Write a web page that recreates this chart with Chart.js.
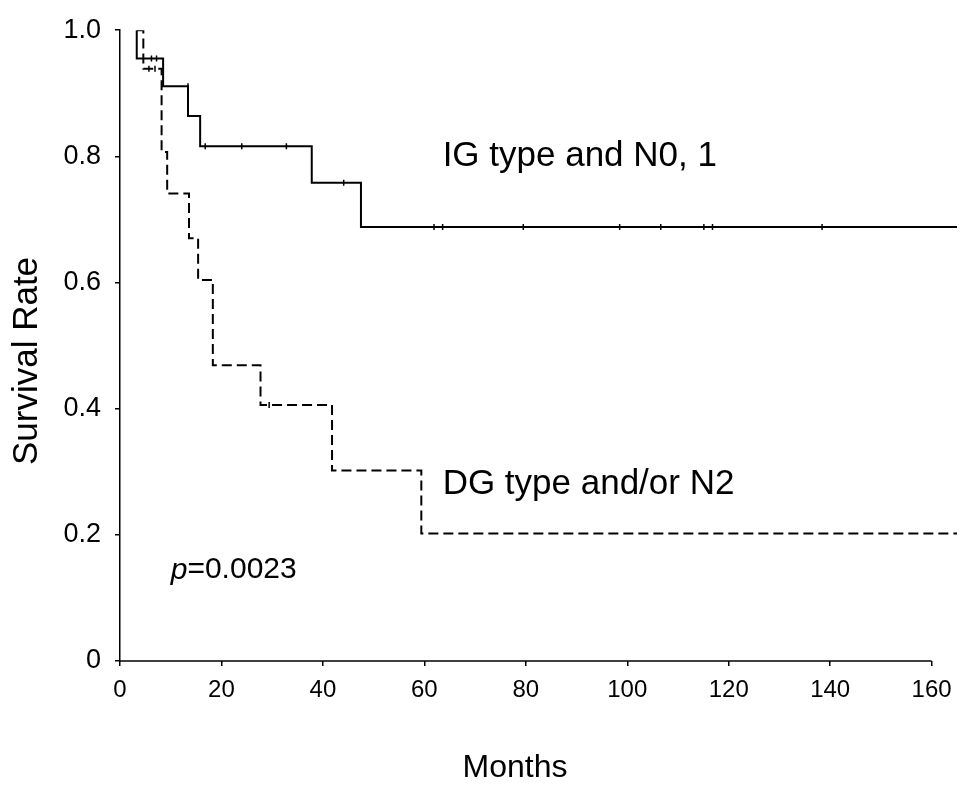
<!DOCTYPE html>
<html lang="en">

<head>
    <meta charset="UTF-8">
    <title>Survival Rate</title>
    <style>
        body {
            margin: 0;
            background: white;
        }

        .chart-box {
            width: 969px;
            height: 798px;
        }
    </style>
</head>

<body>
    <div class="chart-box">
        <canvas id="kmChart"></canvas>
    </div>

    <script src="https://cdn.jsdelivr.net/npm/chart.js"></script>
    <script>
        // curve IG type and N0, 1 (solid)
        const igTimes = [3.3, 3.3, 8.5, 13.4, 15.8, 37.8, 47.5, 165];
        const igSurv = [1, 0.955, 0.911, 0.864, 0.816, 0.758, 0.688, 0.688];
        const igCensorTimes = [6.2, 7.2, 13.4, 16.8, 24, 32.8, 44.1, 61.9, 63.6, 79.5, 98.5, 106.6, 115.1, 116.8, 138.4];
        const igCensorSurv = [0.955, 0.955, 0.911, 0.816, 0.816, 0.816, 0.758, 0.688, 0.688, 0.688, 0.688, 0.688, 0.688, 0.688, 0.688];

        // curve DG type and/or N2 (dashed)
        const dgTimes = [3.3, 4.6, 8.2, 9.3, 13.6, 15.4, 18.3, 27.7, 41.8, 59.4, 165];
        const dgSurv = [1, 0.939, 0.807, 0.741, 0.670, 0.604, 0.469, 0.406, 0.302, 0.202, 0.202];
        const dgCensorTimes = [5.7, 6.9, 29.4];
        const dgCensorSurv = [0.939, 0.939, 0.406];

        const xTicks = [0, 20, 40, 60, 80, 100, 120, 140, 160];
        const yTickLabels = ['0', '0.2', '0.4', '0.6', '0.8', '1.0'];

        const notes = [
            { text: 'IG type and N0, 1', x: 63.6, y: 0.8, size: 35 },
            { text: 'DG type and/or N2', x: 63.6, y: 0.28, size: 35 },
        ];

        const toPoints = (xs, ys) => xs.map((x, i) => ({ x: x, y: ys[i] }));
        const FONT = "'Liberation Sans', Arial, sans-serif";

        // axis line stops at 160, axis titles and text labels
        const extras = {
            id: 'extras',
            afterDraw(chart) {
                const c = chart.ctx;
                const xs = chart.scales.x;
                const ys = chart.scales.y;
                c.save();
                c.strokeStyle = 'black';
                c.lineWidth = 1.5;
                c.beginPath();
                c.moveTo(xs.getPixelForValue(0), ys.getPixelForValue(0));
                c.lineTo(xs.getPixelForValue(160), ys.getPixelForValue(0));
                c.stroke();

                c.fillStyle = 'black';
                c.textBaseline = 'middle';
                notes.forEach(n => {
                    c.font = n.size + 'px ' + FONT;
                    c.fillText(n.text, xs.getPixelForValue(n.x), ys.getPixelForValue(n.y));
                });
                // p value, italic p
                const px = xs.getPixelForValue(10);
                const py = ys.getPixelForValue(0.144);
                c.font = 'italic 30px ' + FONT;
                c.fillText('p', px, py);
                const w = c.measureText('p').width;
                c.font = '30px ' + FONT;
                c.fillText('=0.0023', px + w, py);

                // axis titles
                c.textAlign = 'center';
                c.font = '32px ' + FONT;
                c.fillText('Months', 515, 768);
                c.translate(27, 361);
                c.rotate(-Math.PI / 2);
                c.font = '35px ' + FONT;
                c.fillText('Survival Rate', 0, 0);
                c.restore();
            }
        };

        const ctx = document.getElementById('kmChart').getContext('2d');
        new Chart(ctx, {
            type: 'line',
            data: {
                datasets: [{
                    label: 'IG type and N0, 1',
                    data: toPoints(igTimes, igSurv),
                    borderColor: 'black',
                    borderWidth: 2,
                    stepped: 'before',
                    pointRadius: 0
                }, {
                    label: 'DG type and/or N2',
                    data: toPoints(dgTimes, dgSurv),
                    borderColor: 'black',
                    borderWidth: 2,
                    borderDash: [10, 5],
                    stepped: 'before',
                    pointRadius: 0
                }, {
                    label: 'censored IG',
                    data: toPoints(igCensorTimes, igCensorSurv),
                    showLine: false,
                    pointStyle: 'line',
                    rotation: 90,
                    pointRadius: 3,
                    borderColor: 'black',
                    borderWidth: 1.5
                }, {
                    label: 'censored DG',
                    data: toPoints(dgCensorTimes, dgCensorSurv),
                    showLine: false,
                    pointStyle: 'line',
                    rotation: 90,
                    pointRadius: 3,
                    borderColor: 'black',
                    borderWidth: 1.5
                }]
            },
            options: {
                responsive: true,
                maintainAspectRatio: false,
                animation: false,
                layout: {
                    padding: { top: 30, right: 12, left: 0, bottom: 0 }
                },
                plugins: {
                    legend: { display: false },
                    tooltip: { enabled: false }
                },
                scales: {
                    x: {
                        type: 'linear',
                        min: 0,
                        max: 165,
                        afterFit: (s) => { s.height = 137; },
                        afterBuildTicks: (s) => { s.ticks = xTicks.map(v => ({ value: v })); },
                        ticks: {
                            color: 'black',
                            padding: 10,
                            maxRotation: 0,
                            font: { family: FONT, size: 24 }
                        },
                        grid: {
                            drawOnChartArea: false,
                            tickLength: 5,
                            color: 'black',
                            lineWidth: 1.5
                        },
                        border: { display: false }
                    },
                    y: {
                        min: 0,
                        max: 1,
                        afterFit: (s) => { s.width = 120; },
                        ticks: {
                            stepSize: 0.2,
                            color: 'black',
                            padding: 14,
                            font: { family: FONT, size: 27 },
                            callback: (v) => yTickLabels[Math.round(v * 5)]
                        },
                        grid: {
                            drawOnChartArea: false,
                            tickLength: 5,
                            color: 'black',
                            lineWidth: 1.5
                        },
                        border: { color: 'black', width: 1.5 }
                    }
                }
            },
            plugins: [extras]
        });
    </script>
</body>

</html>
